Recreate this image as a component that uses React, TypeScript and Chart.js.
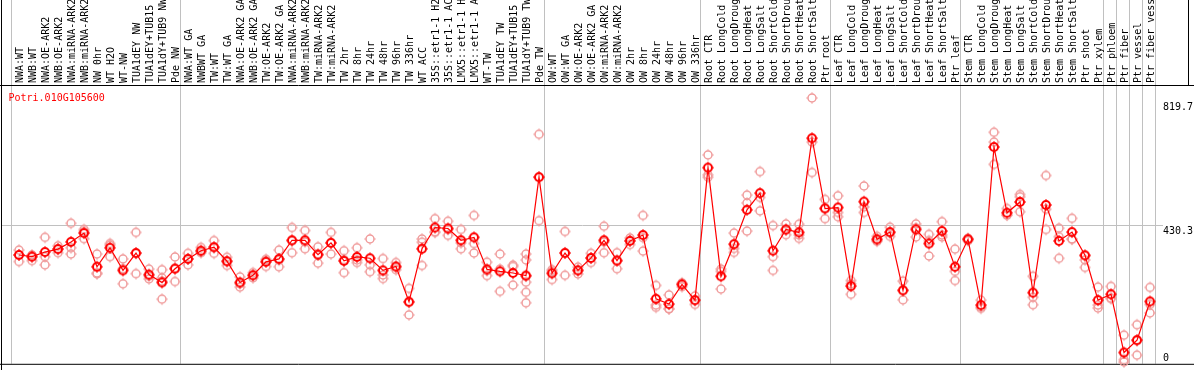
import React, { useEffect, useRef } from 'react';
import { Chart, registerables } from 'chart.js';

Chart.register(...registerables);

const geneId = 'Potri.010G105600';

const categories = [
  'NWA:WT', 'NWB:WT', 'NWA:OE-ARK2', 'NWB:OE-ARK2', 'NWA:miRNA-ARK2', 'NWB:miRNA-ARK2', 'NW 0hr', 'WT H2O', 'WT-NW', 'TUA1dEY NW',
  'TUA1dEY+TUB15 NW', 'TUA1dY+TUB9 NW', 'Pde NW', 'NWA:WT GA', 'NWBWT GA', 'TW:WT', 'TW:WT GA', 'NWA:OE-ARK2 GA', 'NWB:OE-ARK2 GA', 'TW:OE-ARK2',
  'TW:OE-ARK2 GA', 'NWA:miRNA-ARK2', 'NWB:miRNA-ARK2', 'TW:miRNA-ARK2', 'TW:miRNA-ARK2', 'TW 2hr', 'TW 8hr', 'TW 24hr', 'TW 48hr', 'TW 96hr',
  'TW 336hr', 'WT ACC', '35S::etr1-1 H2O', '35S::etr1-1 ACC', 'LMX5::etr1-1 H2O', 'LMX5::etr1-1 ACC', 'WT-TW', 'TUA1dEY TW', 'TUA1dEY+TUB15 TW', 'TUA1dY+TUB9 TW',
  'Pde TW', 'OW:WT', 'OW:WT GA', 'OW:OE-ARK2', 'OW:OE-ARK2 GA', 'OW:miRNA-ARK2', 'OW:miRNA-ARK2', 'OW 2hr', 'OW 8hr', 'OW 24hr',
  'OW 48hr', 'OW 96hr', 'OW 336hr', 'Root CTR', 'Root LongCold', 'Root LongDrought', 'Root LongHeat', 'Root LongSalt', 'Root ShortCold', 'Root ShortDrought',
  'Root ShortHeat', 'Root ShortSalt', 'Ptr root', 'Leaf CTR', 'Leaf LongCold', 'Leaf LongDrought', 'Leaf LongHeat', 'Leaf LongSalt', 'Leaf ShortCold', 'Leaf ShortDrought',
  'Leaf ShortHeat', 'Leaf ShortSalt', 'Ptr leaf', 'Stem CTR', 'Stem LongCold', 'Stem LongDrought', 'Stem LongHeat', 'Stem LongSalt', 'Stem ShortCold', 'Stem ShortDrought',
  'Stem ShortHeat', 'Stem ShortSalt', 'Ptr shoot', 'Ptr xylem', 'Ptr phloem', 'Ptr fiber', 'Ptr vessel', 'Ptr fiber vessel',
];

const means = [
  340, 335, 349, 358, 380, 407, 304, 362, 293, 346,
  280, 256, 298, 328, 353, 364, 321, 256, 278, 319,
  328, 385, 385, 341, 377, 322, 334, 330, 293, 305,
  197, 359, 424, 421, 385, 394, 296, 290, 285, 277,
  578, 284, 346, 293, 331, 385, 323, 383, 401, 206,
  190, 250, 202, 607, 275, 373, 478, 529, 353, 418,
  409, 697, 482, 485, 245, 503, 388, 410, 232, 418,
  375, 413, 304, 388, 187, 670, 469, 502, 225, 493,
  383, 410, 339, 202, 220, 42, 80, 198,
];

const replicates: number[][] = [
  [355, 340, 320], [340, 335, 323], [394, 335, 310], [368, 358, 347], [437, 362, 343],
  [418, 412, 390], [343, 285, 282], [375, 370, 335], [328, 298, 252], [409, 345, 283],
  [297, 275, 267], [295, 270, 260, 205], [334, 300, 259], [345, 328, 310], [363, 350, 347],
  [384, 362, 345], [333, 320, 308], [273, 252, 242], [286, 277, 270], [327, 323, 305],
  [355, 324, 304], [424, 383, 347], [415, 380, 359], [365, 342, 315], [409, 378, 343],
  [353, 326, 286], [362, 325, 317], [389, 310, 289], [329, 279, 268], [317, 302, 295],
  [238, 195, 157], [389, 379, 308], [451, 411, 409], [443, 418, 400], [418, 377, 359],
  [461, 375, 346], [318, 292, 277], [343, 297, 229], [309, 305, 248], [343, 325, 275, 257, 226, 194],
  [709, 578, 445], [295, 290, 265], [412, 347, 278], [303, 293, 282], [345, 330, 317],
  [428, 380, 347], [347, 323, 298], [392, 384, 372], [461, 393, 352], [247, 187, 180],
  [218, 176, 175], [255, 251, 243], [215, 201, 189], [646, 585, 578], [297, 290, 236],
  [407, 360, 348], [523, 499, 413], [595, 516, 475], [430, 335, 293], [435, 416, 402],
  [434, 401, 391], [820, 685, 592], [510, 484, 451], [521, 470, 457], [262, 252, 220],
  [551, 487, 470], [397, 384, 382], [425, 407, 397], [260, 232, 203], [435, 423, 395],
  [403, 384, 337], [442, 401, 395], [358, 290, 262], [391, 388, 384], [202, 181, 177],
  [715, 685, 617], [482, 462, 462], [525, 518, 472], [275, 211, 188], [583, 480, 418],
  [422, 396, 330], [452, 389, 388], [325, 338, 302], [242, 187, 178], [244, 208, 207],
  [95, 20, 13], [127, 78, 34], [241, 189, 163],
];

const yTickValues = [0, 430.3, 819.7];
const yGridValues = [430.3];
const groupStarts = [0, 13, 41, 53, 63, 73, 84, 85, 86, 87, 88];

const FONT = '10px "DejaVu Sans Mono", monospace';

function makeMarker(stroke: string, lineWidth: number, radius: number) {
  const size = 14;
  const c = document.createElement('canvas');
  c.width = size;
  c.height = size;
  const g = c.getContext('2d')!;
  const m = size / 2;
  g.strokeStyle = stroke;
  g.lineWidth = lineWidth;
  g.beginPath();
  g.arc(m, m, radius, 0, Math.PI * 2);
  g.stroke();
  g.lineWidth = 1;
  g.beginPath();
  const r0 = radius + lineWidth / 2 - 0.5;
  const r1 = radius + lineWidth / 2 + 1;
  g.moveTo(m, m - r0); g.lineTo(m, m - r1);
  g.moveTo(m, m + r0); g.lineTo(m, m + r1);
  g.moveTo(m - r0, m); g.lineTo(m - r1, m);
  g.moveTo(m + r0, m); g.lineTo(m + r1, m);
  g.stroke();
  return c;
}

const decorPlugin = {
  id: 'decor',
  beforeDatasetsDraw(chart: any) {
    const { ctx, scales, chartArea, width, height } = chart;
    const x = scales.x;
    const y = scales.y;
    ctx.save();
    // group separators
    ctx.strokeStyle = '#c0c0c0';
    ctx.lineWidth = 1;
    for (const k of groupStarts) {
      const px = Math.floor(x.getPixelForValue(k) - 8) + 0.5;
      ctx.beginPath();
      ctx.moveTo(px, 0);
      ctx.lineTo(px, chartArea.bottom);
      ctx.stroke();
    }
    // horizontal grid
    for (const v of yGridValues) {
      const py = Math.floor(y.getPixelForValue(v)) + 0.5;
      ctx.beginPath();
      ctx.moveTo(2, py);
      ctx.lineTo(1163, py);
      ctx.stroke();
    }
    // black frame
    ctx.strokeStyle = '#000';
    ctx.beginPath();
    ctx.moveTo(1.5, 0); ctx.lineTo(1.5, height);
    ctx.moveTo(0, chartArea.top - 0.5); ctx.lineTo(width, chartArea.top - 0.5);
    ctx.moveTo(0, chartArea.bottom + 0.5); ctx.lineTo(width, chartArea.bottom + 0.5);
    ctx.moveTo(1188.5, 0); ctx.lineTo(1188.5, chartArea.top);
    ctx.stroke();
    // category labels (rotated)
    ctx.font = FONT;
    ctx.fillStyle = '#000';
    ctx.textAlign = 'left';
    ctx.textBaseline = 'alphabetic';
    categories.forEach((c, i) => {
      const px = x.getPixelForValue(i);
      ctx.save();
      ctx.translate(px + 3.5, chartArea.top - 3);
      ctx.rotate(-Math.PI / 2);
      ctx.fillText(c, 0, 0);
      ctx.restore();
    });
    // y labels
    for (const v of yTickValues) {
      let base = y.getPixelForValue(v) + 8.5;
      base = Math.max(chartArea.top + 24, Math.min(chartArea.bottom - 3.3, base));
      ctx.fillText(String(v), 1163, base);
    }
    // title
    ctx.fillStyle = '#ff0000';
    ctx.fillText(geneId, 8.5, chartArea.top + 15);
    ctx.restore();
  },
};

export default function App() {
  const ref = useRef<HTMLCanvasElement | null>(null);
  useEffect(() => {
    const canvas = ref.current!;
    const meanMarker = makeMarker('#ff0000', 2, 4);
    const repMarker = makeMarker('#f09a9a', 1.5, 4);
    const chart = new Chart(canvas, {
      type: 'scatter',
      data: {
        datasets: [
          {
            label: 'mean',
            data: means.map((v, i) => ({ x: i, y: v })),
            showLine: true,
            borderColor: '#ff0000',
            borderWidth: 1.2,
            pointStyle: meanMarker as any,
            pointRadius: 5,
            clip: false as any,
          },
          {
            label: 'replicates',
            data: replicates.flatMap((arr, i) => arr.map((v) => ({ x: i, y: v }))),
            showLine: false,
            pointStyle: repMarker as any,
            pointRadius: 5,
            clip: false as any,
          },
        ],
      },
      options: {
        animation: false,
        responsive: false,
        devicePixelRatio: 1,
        events: [],
        layout: { padding: { left: 12.5, right: 37.5, top: 86, bottom: 1 } },
        plugins: { legend: { display: false }, tooltip: { enabled: false }, title: { display: false } },
        scales: {
          x: { type: 'linear', display: false, min: -0.5, max: 87.5 },
          y: { type: 'linear', display: false, min: 7.5, max: 856.5 },
        },
      },
      plugins: [decorPlugin],
    });
    return () => chart.destroy();
  }, []);
  return (
    <div style={{ position: 'fixed', left: 0, top: 0, width: 1194, height: 370, background: '#fff' }}>
      <canvas ref={ref} width={1194} height={370} style={{ display: 'block' }} />
    </div>
  );
}
